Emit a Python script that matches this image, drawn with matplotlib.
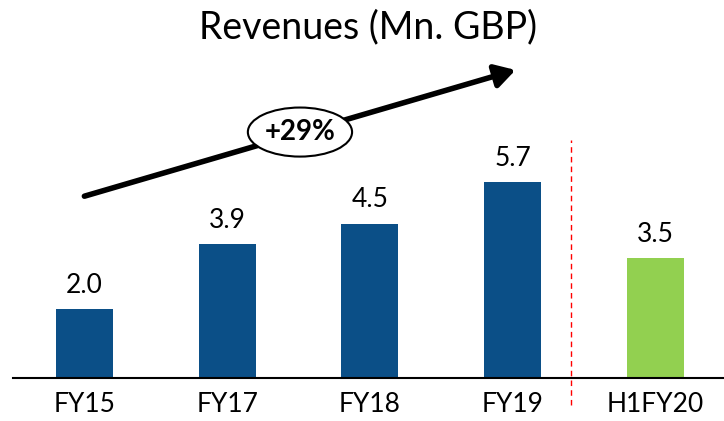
import matplotlib
matplotlib.use('Agg')
import matplotlib.pyplot as plt
from matplotlib.patches import Ellipse

categories = ['FY15', 'FY17', 'FY18', 'FY19', 'H1FY20']
revenues = [2.0, 3.9, 4.5, 5.7, 3.5]
colors = ['#0B4F87', '#0B4F87', '#0B4F87', '#0B4F87', '#92D050']
growth_label = '+29%'

plt.rcParams['font.family'] = ['Lato', 'DejaVu Sans']

fig = plt.figure(figsize=(7.24, 4.21), dpi=100)
ax = fig.add_axes([13 / 724, 43 / 421, 711 / 724, 378 / 421])

x = list(range(len(categories)))
ax.bar(x, revenues, width=0.4, color=colors)
for xi, v in zip(x, revenues):
    ax.text(xi, v + 0.33, f'{v:.1f}', ha='center', va='bottom', fontsize=19)

ax.set_xlim(-0.5, 4.48)
ax.set_ylim(0, 11.02)
ax.set_xticks(x)
ax.set_xticklabels(categories, fontsize=19)
ax.tick_params(axis='x', length=0, pad=10)
ax.set_yticks([])
for s in ['top', 'right', 'left']:
    ax.spines[s].set_visible(False)
ax.spines['bottom'].set_linewidth(1.5)

# separator between full years and half year
ax.plot([3.41, 3.41], [-0.8, 6.95], color='red', lw=1, ls=(0, (4, 3)), clip_on=False)

# growth arrow
ax.annotate('', xy=(3.02, 8.98), xytext=(0.0, 5.3),
            arrowprops=dict(arrowstyle='-|>,head_length=1.2,head_width=0.7',
                            color='black', lw=4, shrinkA=0, shrinkB=0))
ax.add_patch(Ellipse((1.51, 7.17), 0.73, 1.43, facecolor='white',
                     edgecolor='black', lw=1.5, zorder=5))
ax.text(1.51, 7.17, growth_label, ha='center', va='center', fontsize=20,
        fontweight='bold', zorder=6)

fig.text(0.508, 0.935, 'Revenues (Mn. GBP)', ha='center', va='center', fontsize=27)

fig.savefig('out.png', dpi=100)
